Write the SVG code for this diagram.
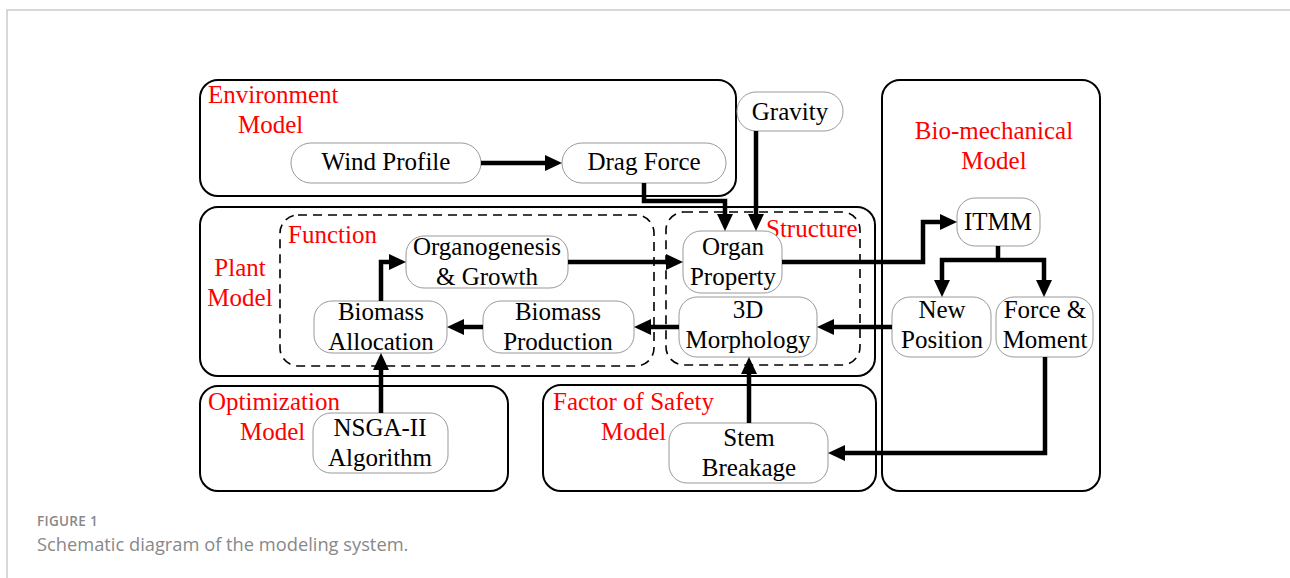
<svg xmlns="http://www.w3.org/2000/svg" width="1290" height="578" viewBox="0 0 1290 578">
<defs>
<style>
.grp{fill:none;stroke:#000;stroke-width:2}
.dash{fill:none;stroke:#000;stroke-width:1.6;stroke-dasharray:9,6}
.node{fill:#fff;stroke:#999;stroke-width:1}
.t{font-family:"Liberation Serif","Times New Roman",serif;font-size:25px;fill:#000;text-anchor:middle}
.r{font-family:"Liberation Serif","Times New Roman",serif;font-size:25px;fill:#f00}
.c{fill:none;stroke:#000;stroke-width:4.5}
.a{marker-end:url(#ah)}
.cap1{font-family:"Open Sans","Liberation Sans",sans-serif;font-size:13.5px;font-weight:600;fill:#888;letter-spacing:0.3px}
.cap2{font-family:"Open Sans","Liberation Sans",sans-serif;font-size:18.3px;fill:#888}
</style>
<marker id="ah" markerUnits="userSpaceOnUse" markerWidth="17" markerHeight="16" refX="5" refY="8" orient="auto">
<path d="M0,0 L17,8 L0,16 z" fill="#000"/>
</marker>
</defs>
<rect x="0" y="0" width="1290" height="578" fill="#fff"/>
<path d="M7,578 V10 H1290" fill="none" stroke="#ccc" stroke-width="1.5"/>

<g id="environment-model">
<rect class="grp" x="200" y="80" width="536" height="116" rx="18"/>
<text class="r" x="208" y="103">Environment</text>
<text class="r" x="238" y="133">Model</text>
</g>
<g id="plant-model">
<rect class="grp" x="200" y="207" width="675" height="169" rx="18"/>
<text class="r" x="240" y="276" text-anchor="middle">Plant</text>
<text class="r" x="240" y="306" text-anchor="middle">Model</text>
</g>
<g id="function">
<rect class="dash" x="280" y="215" width="374" height="151" rx="18"/>
<text class="r" x="288" y="243">Function</text>
</g>
<g id="structure">
<rect class="dash" x="666" y="212" width="194" height="153" rx="18"/>
<text class="r" x="766" y="237">Structure</text>
</g>
<g id="bio-mechanical-model">
<rect class="grp" x="882" y="80" width="218" height="411" rx="18"/>
<text class="r" x="994" y="139" text-anchor="middle">Bio-mechanical</text>
<text class="r" x="994" y="169" text-anchor="middle">Model</text>
</g>
<g id="optimization-model">
<rect class="grp" x="200" y="386" width="308" height="105" rx="18"/>
<text class="r" x="208" y="410">Optimization</text>
<text class="r" x="240" y="440">Model</text>
</g>
<g id="factor-of-safety-model">
<rect class="grp" x="543" y="385" width="333" height="106" rx="18"/>
<text class="r" x="553" y="410">Factor of Safety</text>
<text class="r" x="601" y="440">Model</text>
</g>

<g id="wind-profile">
<rect class="node" x="291" y="143" width="190" height="40" rx="20"/>
<text class="t" x="386" y="170">Wind Profile</text>
</g>
<g id="drag-force">
<rect class="node" x="562" y="143" width="164" height="40" rx="20"/>
<text class="t" x="644" y="170">Drag Force</text>
</g>
<g id="gravity">
<rect class="node" x="737" y="92" width="106" height="39" rx="19"/>
<text class="t" x="790" y="120">Gravity</text>
</g>
<g id="organogenesis-growth">
<rect class="node" x="406" y="236" width="162" height="52" rx="18"/>
<text class="t" x="487" y="255">Organogenesis</text>
<text class="t" x="487" y="285">&amp; Growth</text>
</g>
<g id="biomass-allocation">
<rect class="node" x="314" y="301" width="133" height="52" rx="18"/>
<text class="t" x="381" y="320">Biomass</text>
<text class="t" x="381" y="350">Allocation</text>
</g>
<g id="biomass-production">
<rect class="node" x="483" y="301" width="151" height="52" rx="18"/>
<text class="t" x="558" y="320">Biomass</text>
<text class="t" x="558" y="350">Production</text>
</g>
<g id="organ-property">
<rect class="node" x="683" y="231" width="99" height="62" rx="18"/>
<text class="t" x="733" y="255">Organ</text>
<text class="t" x="733" y="285">Property</text>
</g>
<g id="3d-morphology">
<rect class="node" x="679" y="297" width="138" height="60" rx="18"/>
<text class="t" x="748" y="318">3D</text>
<text class="t" x="748" y="348">Morphology</text>
</g>
<g id="itmm">
<rect class="node" x="957" y="198" width="83" height="48" rx="18"/>
<text class="t" x="998" y="230">ITMM</text>
</g>
<g id="new-position">
<rect class="node" x="892" y="297" width="99" height="60" rx="18"/>
<text class="t" x="942" y="318">New</text>
<text class="t" x="942" y="348">Position</text>
</g>
<g id="force-moment">
<rect class="node" x="996" y="297" width="97" height="60" rx="18"/>
<text class="t" x="1045" y="318">Force &amp;</text>
<text class="t" x="1045" y="348">Moment</text>
</g>
<g id="nsga-ii-algorithm">
<rect class="node" x="313" y="413" width="135" height="60" rx="18"/>
<text class="t" x="380" y="436">NSGA-II</text>
<text class="t" x="380" y="466">Algorithm</text>
</g>
<g id="stem-breakage">
<rect class="node" x="669" y="423" width="159" height="60" rx="18"/>
<text class="t" x="749" y="446">Stem</text>
<text class="t" x="749" y="476">Breakage</text>
</g>

<g id="connectors">
<path class="c a" d="M481,163 H550"/>
<path class="c a" d="M644,183 V201 H725 V219"/>
<path class="c a" d="M756,131 V219"/>
<path class="c a" d="M568,262 H671"/>
<path class="c a" d="M782,262 H923 V222 H945"/>
<path class="c" d="M998,246 V260"/>
<path class="c a" d="M998,260 H942 V285"/>
<path class="c a" d="M998,260 H1044 V285"/>
<path class="c a" d="M892,327 H829"/>
<path class="c a" d="M679,327 H646"/>
<path class="c a" d="M483,327 H459"/>
<path class="c a" d="M381,301 V262 H394"/>
<path class="c a" d="M381,413 V365"/>
<path class="c a" d="M749,423 V369"/>
<path class="c a" d="M1045,357 V453 H840"/>
</g>

<g id="caption">
<text class="cap1" x="37" y="526">FIGURE 1</text>
<text class="cap2" x="37" y="551">Schematic diagram of the modeling system.</text>
</g>
</svg>
